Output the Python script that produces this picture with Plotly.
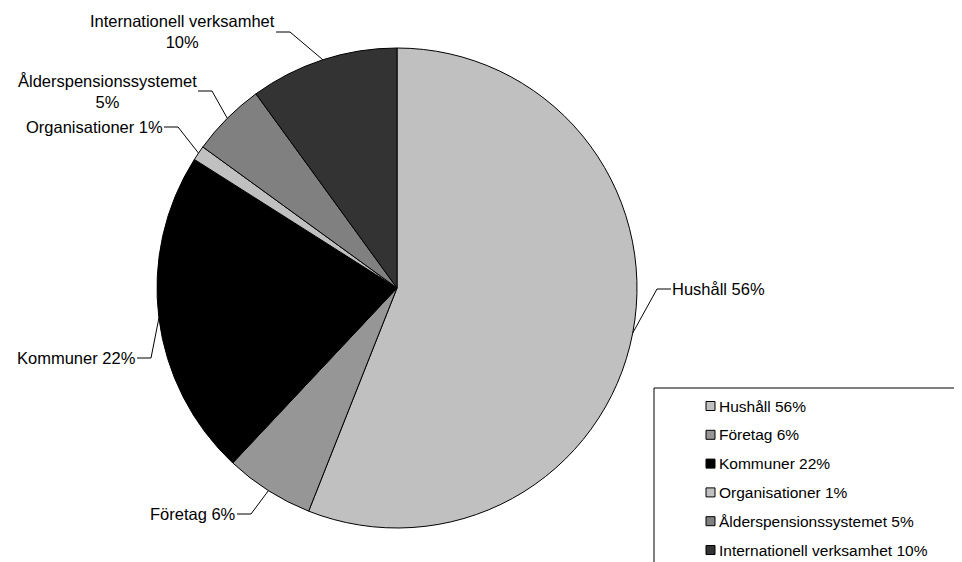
import math
import plotly.graph_objects as go

# ---- data ----
categories = ["Hushåll", "Företag", "Kommuner", "Organisationer",
              "Ålderspensionssystemet", "Internationell verksamhet"]
values = [56, 6, 22, 1, 5, 10]
colors = ["#c0c0c0", "#969696", "#000000", "#c0c0c0", "#808080", "#333333"]

# ---- layout constants (page pixels) ----
PAGE_W, PAGE_H = 962, 562
OFF = 8                      # default body margin of the page
W, H = PAGE_W - OFF, PAGE_H - OFF
CX, CY, R = 397, 288, 240
FONT = "Liberation Sans, Arial, sans-serif"
FS_LABEL = 16.5
FS_LEG = 15.5

def X(px):
    return (px - OFF) / W

def Y(py):
    return 1 - (py - OFF) / H

# label placement: elbow point, side of text ('L' text left of elbow, 'R' text right)
label_layout = [
    dict(elbow=(657, 289), side="R", two_lines=False),
    dict(elbow=(251, 514), side="L", two_lines=False),
    dict(elbow=(151, 358), side="L", two_lines=False),
    dict(elbow=(178, 127), side="L", two_lines=False),
    dict(elbow=(212, 91), side="L", two_lines=True),
    dict(elbow=(290, 32), side="L", two_lines=True),
]
SEG = 14

fig = go.Figure()
fig.add_trace(go.Pie(
    labels=categories, values=values, sort=False, direction="clockwise",
    rotation=0, textinfo="none", hoverinfo="label+percent",
    marker=dict(colors=colors, line=dict(color="#000000", width=1)),
    domain=dict(x=[X(CX - R), X(CX + R)], y=[Y(CY + R), Y(CY - R)]),
    showlegend=False,
))

total = sum(values)
pcts = [round(100 * v / total) for v in values]
shapes = []
annotations = []
cum = 0
for cat, v, p, lay in zip(categories, values, pcts, label_layout):
    mid = (cum + v / 2) / total
    cum += v
    th = 2 * math.pi * mid
    tx = CX + R * math.sin(th)
    ty = CY - R * math.cos(th)
    ex, ey = lay["elbow"]
    sx = ex + SEG if lay["side"] == "R" else ex - SEG
    shapes.append(dict(type="path", xref="paper", yref="paper",
                       path=f"M{X(sx)},{Y(ey)} L{X(ex)},{Y(ey)} L{X(tx)},{Y(ty)}",
                       line=dict(color="#000000", width=1)))
    text = f"{cat}<br>{p}%" if lay["two_lines"] else f"{cat} {p}%"
    annotations.append(dict(x=X(sx), y=Y(ey),
                            xref="paper", yref="paper", text=text, showarrow=False,
                            xanchor="left" if lay["side"] == "R" else "right",
                            yanchor="middle", align="center",
                            borderpad=0, xshift=0,
                            font=dict(family=FONT, size=FS_LABEL, color="#000000")))

# ---- manual legend ----
LEG_X0, LEG_Y0 = 654, 388
ROW0, ROWSTEP = 406, 28.8
SQ_X, SQ = 706, 9
shapes.append(dict(type="rect", xref="paper", yref="paper",
                   x0=X(LEG_X0), y0=Y(LEG_Y0), x1=X(PAGE_W + 20), y1=Y(PAGE_H + 20),
                   line=dict(color="#000000", width=1), fillcolor="rgba(0,0,0,0)"))
for i, (cat, p, c) in enumerate(zip(categories, pcts, colors)):
    yc = ROW0 + i * ROWSTEP
    shapes.append(dict(type="rect", xref="paper", yref="paper",
                       x0=X(SQ_X), x1=X(SQ_X + SQ), y0=Y(yc - SQ / 2), y1=Y(yc + SQ / 2),
                       line=dict(color="#000000", width=1), fillcolor=c))
    annotations.append(dict(x=X(SQ_X + SQ + 3), y=Y(yc), xref="paper", yref="paper",
                            text=f"{cat} {p}%", showarrow=False, xanchor="left",
                            yanchor="middle", borderpad=0,
                            font=dict(family=FONT, size=FS_LEG, color="#000000")))

fig.update_layout(
    width=W, height=H, margin=dict(l=0, r=0, t=0, b=0),
    paper_bgcolor="#ffffff", plot_bgcolor="#ffffff",
    shapes=shapes, annotations=annotations, showlegend=False,
)
fig.write_html("out.html")
